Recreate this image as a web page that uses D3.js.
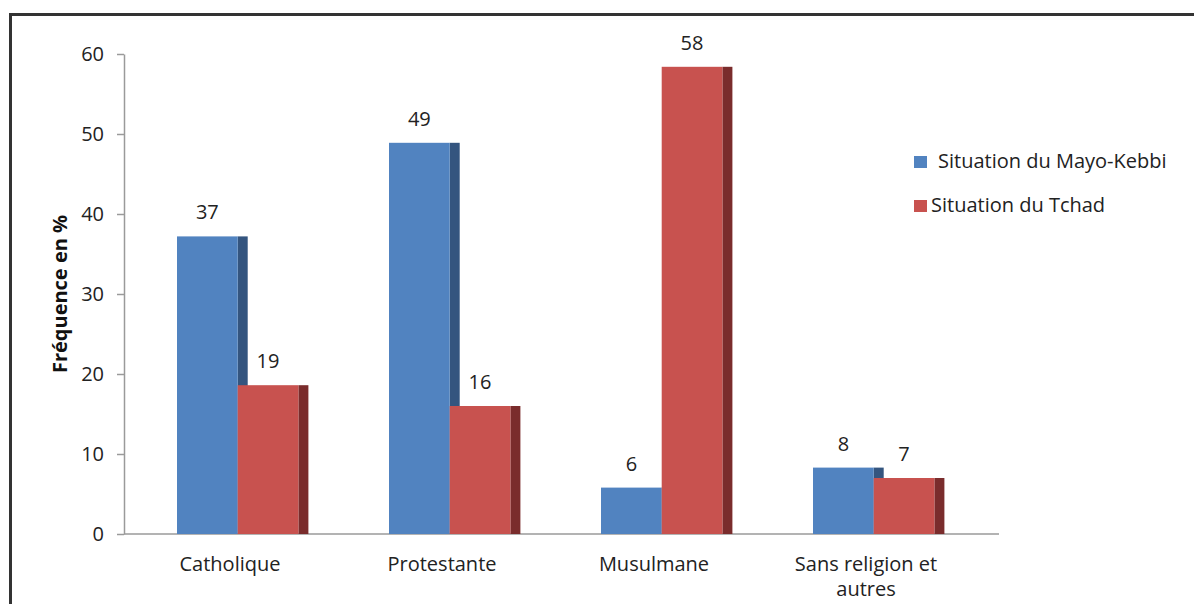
<!DOCTYPE html>
<html>
<head>
<meta charset="utf-8">
<script src="https://cdn.jsdelivr.net/npm/d3@7"></script>
<style>
  body { margin: 0; background: #fff; }
  svg { display: block; font-family: "Open Sans", sans-serif; }
</style>
</head>
<body>
<div id="chart"></div>
<script>
const categories = ["Catholique", "Protestante", "Musulmane", "Sans religion et autres"];
const seriesNames = ["Situation du Mayo-Kebbi", "Situation du Tchad"];
const mayoKebbi = [37.2, 48.9, 5.8, 8.3];
const tchad = [18.6, 16.0, 58.4, 7.0];
const yTicks = [0, 10, 20, 30, 40, 50, 60];

const width = 1194, height = 604;
const front = ["#5183c0", "#c8524f"];
const side = ["#34557f", "#7a2c2c"];
const depth = 10;

const svg = d3.select("#chart").append("svg").attr("width", width).attr("height", height);

// outer frame (only top and left edges fall inside the picture)
svg.append("rect").attr("x", 10.5).attr("y", 14.5).attr("width", 1300).attr("height", 700)
  .attr("fill", "none").attr("stroke", "#333").attr("stroke-width", 3);

const x = d3.scaleBand().domain(categories).range([124, 972]);
const inner = d3.scaleBand().domain(seriesNames).range([53, 174.4]);
const y = d3.scaleLinear().domain([0, 60]).range([534, 54]);

const yAxis = svg.append("g").attr("transform", "translate(124,0)")
  .call(d3.axisLeft(y).tickValues(yTicks).tickSize(7).tickSizeOuter(0).tickPadding(13));
yAxis.select(".domain").attr("stroke", "#9a9a9a").attr("stroke-width", 1.5);
yAxis.selectAll(".tick line").attr("stroke", "#9a9a9a").attr("stroke-width", 1.5);
yAxis.selectAll(".tick text").attr("font-size", 20).attr("fill", "#222").attr("font-family", "Open Sans");

svg.append("line").attr("x1", 124).attr("x2", 999).attr("y1", y(0)).attr("y2", y(0))
  .attr("stroke", "#9a9a9a").attr("stroke-width", 1.5);

svg.append("text").attr("transform", `translate(67,${(y(0) + y(60)) / 2}) rotate(-90)`)
  .attr("text-anchor", "middle").attr("font-weight", "bold").attr("font-size", 20).attr("fill", "#111")
  .text("Fréquence en %");

const rows = categories.map((c, i) => ({ cat: c, vals: [mayoKebbi[i], tchad[i]] }));

rows.forEach(r => {
  r.vals.forEach((v, s) => {
    const x0 = x(r.cat) + inner(seriesNames[s]);
    const w = inner.bandwidth();
    svg.append("rect").attr("x", x0 + w).attr("y", y(v)).attr("width", depth).attr("height", y(0) - y(v))
      .attr("fill", side[s]);
    svg.append("rect").attr("x", x0).attr("y", y(v)).attr("width", w).attr("height", y(0) - y(v))
      .attr("fill", front[s]);
    svg.append("text").attr("x", x0 + w / 2).attr("y", y(v) - 17).attr("text-anchor", "middle")
      .attr("font-size", 20).attr("fill", "#222").text(Math.round(v));
  });
});

// category labels
categories.forEach(c => {
  const words = c === "Sans religion et autres" ? ["Sans religion et", "autres"] : [c];
  const t = svg.append("text").attr("text-anchor", "middle").attr("font-size", 20).attr("fill", "#222");
  words.forEach((wd, i) => {
    t.append("tspan").attr("x", x(c) + x.bandwidth() / 2).attr("y", 571 + i * 25).text(wd);
  });
});

// legend
const legendPos = [{ sq: 914, tx: 938, y: 168 }, { sq: 914, tx: 931, y: 212 }];
seriesNames.forEach((n, i) => {
  const p = legendPos[i];
  svg.append("rect").attr("x", p.sq).attr("y", p.y - 12).attr("width", 13).attr("height", 12).attr("fill", front[i]);
  svg.append("text").attr("x", p.tx).attr("y", p.y).attr("font-size", 20).attr("fill", "#222").text(n);
});
</script>
</body>
</html>
